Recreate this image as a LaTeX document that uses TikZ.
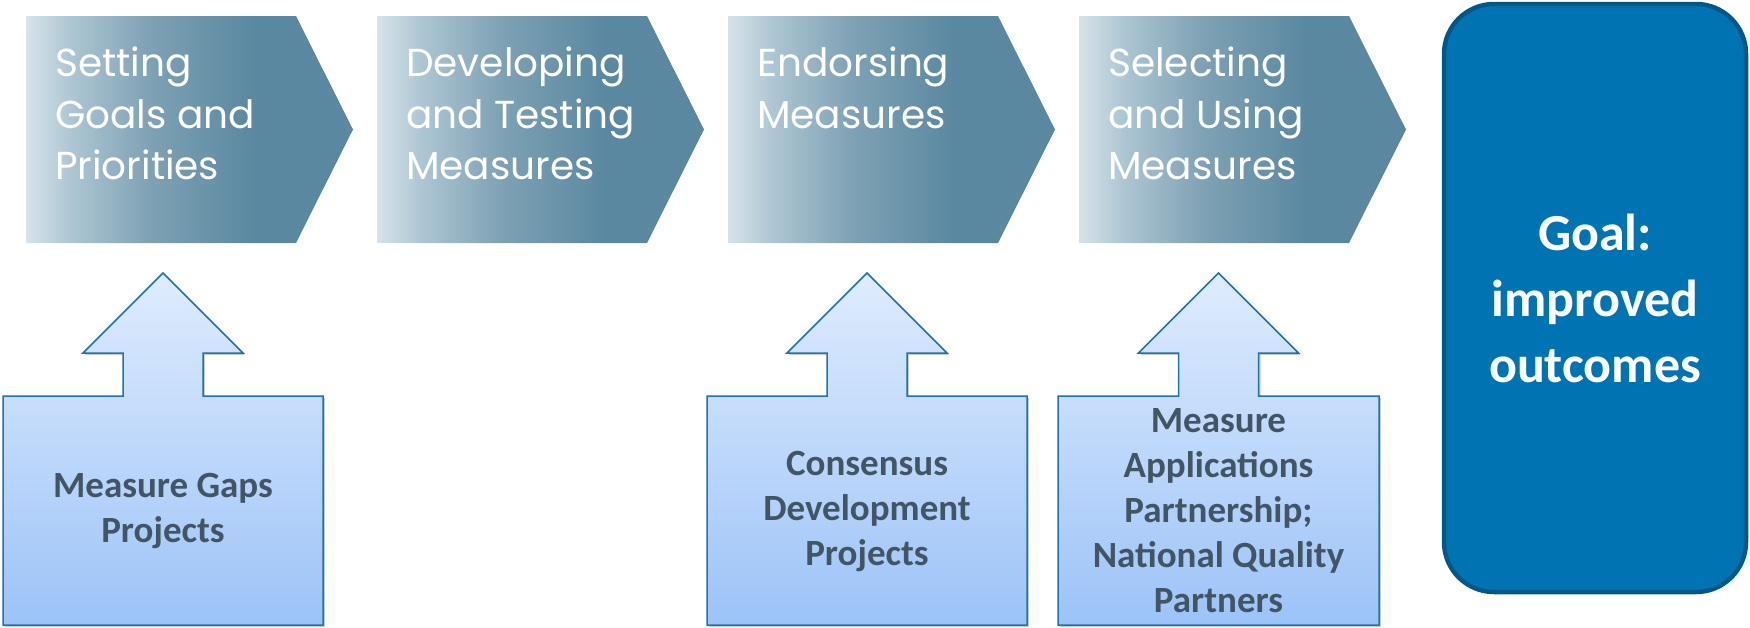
\documentclass[tikz,border=0pt]{standalone}
\usepackage{fontspec}
\setmainfont{Carlito}
\newfontfamily\chevfont{Poppins}
\usetikzlibrary{shadows}
\definecolor{chevlight}{RGB}{214,227,234}
\definecolor{chevmidA}{RGB}{172,197,210}
\definecolor{chevmidB}{RGB}{126,161,180}
\definecolor{chevdark}{RGB}{89,136,160}
\definecolor{uptop}{RGB}{223,236,253}
\definecolor{upbottom}{RGB}{156,195,248}
\definecolor{upborder}{RGB}{28,114,178}
\definecolor{boxtextc}{RGB}{65,85,101}
\definecolor{goalfill}{RGB}{0,116,178}
\definecolor{goalborder}{RGB}{0,88,138}
\pgfdeclarehorizontalshading{chevshade}{100bp}{color(0bp)=(chevlight); color(25bp)=(chevlight); color(32bp)=(chevmidA); color(44bp)=(chevmidB); color(60bp)=(chevdark); color(100bp)=(chevdark)}
\begin{document}
\begin{tikzpicture}[x=1pt,y=-1pt,
  chevtext/.style={anchor=north west, inner sep=0pt, align=left, text=white,
    font=\chevfont\fontsize{39}{51.5}\selectfont},
  boxtext/.style={inner sep=0pt, align=center, text=boxtextc,
    font=\bfseries\fontsize{37}{45}\selectfont},
  upbox/.style={draw=upborder, line width=1.5pt, top color=uptop, bottom color=upbottom,
    drop shadow={shadow xshift=2pt, shadow yshift=-2pt, opacity=0.2, fill=black}},
  chevshape/.style={shading=chevshade},
  goalbox/.style={draw=goalborder, line width=4.5pt, fill=goalfill, rounded corners=50pt,
    minimum width=302pt, minimum height=588pt, inner sep=0pt, align=center, text=white,
    font=\bfseries\fontsize{52}{66}\selectfont}]
\useasboundingbox (0,0) rectangle (1750,627);
% chevrons
\foreach \L in {26,377,728,1079}{
  \path[chevshape] (\L,16) -- (\L+270,16) -- (\L+327,129.5) -- (\L+270,243) -- (\L,243) -- cycle;
}
\node[chevtext] (t1) at (55,47) {Setting\\Goals and\\Priorities};
\node[chevtext] (t2) at (406,47) {Developing\\and Testing\\Measures};
\node[chevtext] (t3) at (757,47) {Endorsing\\Measures};
\node[chevtext] (t4) at (1108,47) {Selecting\\and Using\\Measures};
% up-arrow boxes
\foreach \a/\b in {3/323, 707/1027, 1058/1379}{
  \pgfmathsetmacro{\c}{(\a+\b)/2}
  \path[upbox] (\a,625) -- (\a,396) -- (\c-40,396) -- (\c-40,353) -- (\c-80,353) -- (\c,273)
    -- (\c+80,353) -- (\c+40,353) -- (\c+40,396) -- (\b,396) -- (\b,625) -- cycle;
}
\node[boxtext] (b1) at (163,511) {Measure Gaps\\Projects};
\node[boxtext] (b3) at (867,511) {Consensus\\Development\\Projects};
\node[boxtext] (b4) at (1218.5,511) {Measure\\Applications\\Partnership;\\National Quality\\Partners};
% goal
\node[goalbox] (goal) at (1595,298) {Goal:\\improved\\outcomes};
\end{tikzpicture}
\end{document}
